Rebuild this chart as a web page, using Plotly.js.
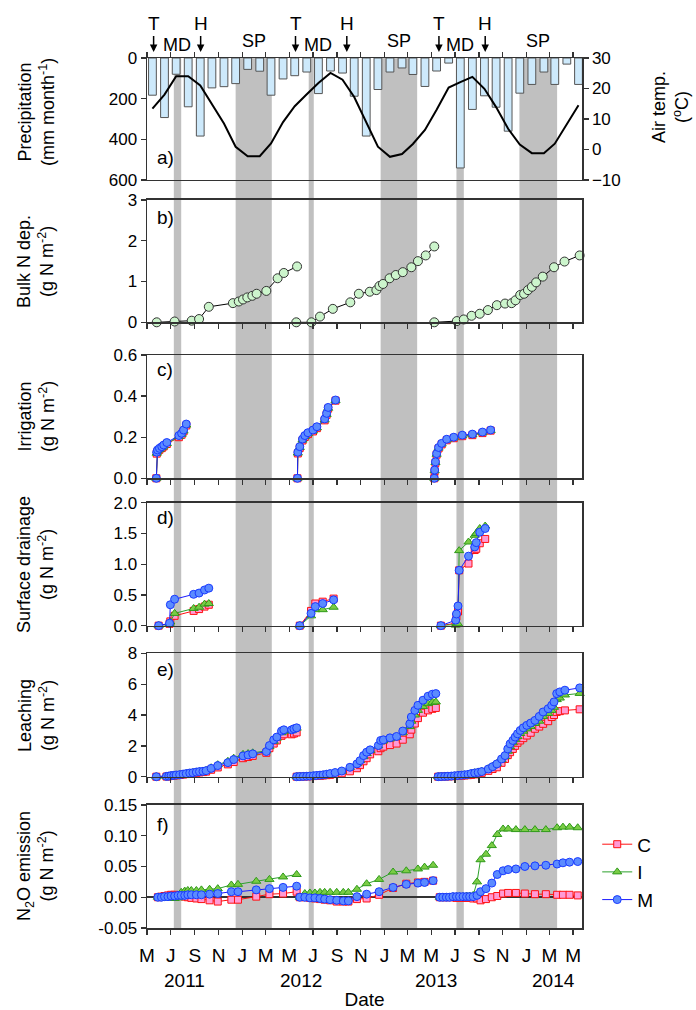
<!DOCTYPE html>
<html><head><meta charset="utf-8">
<script src="https://cdn.plot.ly/plotly-3.0.1.min.js"></script>
<style>body{margin:0;background:#fff}#chart{width:696px;height:1010px}</style>
</head><body><div id="chart"></div>
<script>
// ---------- DATA ----------
const tickVals = ['2011-05-01','2011-07-01','2011-09-01','2011-11-01','2012-01-01','2012-03-01','2012-05-01','2012-07-01','2012-09-01','2012-11-01','2013-01-01','2013-03-01','2013-05-01','2013-07-01','2013-09-01','2013-11-01','2014-01-01','2014-03-01','2014-05-01'];
const tickText = ['M','J','S','N','J','M','M','J','S','N','J','M','M','J','S','N','J','M','M'];
const yearLabels = ['2011','2012','2013','2014'];
const yearPos = ['2011-08-06','2012-06-01','2013-05-13','2014-03-11'];

const bandStart = ['2011-07-09','2011-12-15','2012-06-20','2012-12-22','2013-07-05','2013-12-14'];
const bandEnd   = ['2011-07-28','2012-03-17','2012-07-03','2013-03-26','2013-07-24','2014-03-21'];
const bandLabel = ['MD','SP','MD','SP','MD','SP'];
const bandLabelPos = ['2011-07-18','2012-01-31','2012-07-13','2013-02-06','2013-07-15','2014-02-01'];

const eventDates = ['2011-05-18','2011-09-16','2012-05-17','2012-09-26','2013-05-21','2013-09-17'];
const eventLabels = ['T','H','T','H','T','H'];

// a) monthly precipitation and air temperature
const months = ['2011-05-15','2011-06-15','2011-07-15','2011-08-15','2011-09-15','2011-10-15','2011-11-15','2011-12-15',
 '2012-01-15','2012-02-15','2012-03-15','2012-04-15','2012-05-15','2012-06-15','2012-07-15','2012-08-15','2012-09-15','2012-10-15','2012-11-15','2012-12-15',
 '2013-01-15','2013-02-15','2013-03-15','2013-04-15','2013-05-15','2013-06-15','2013-07-15','2013-08-15','2013-09-15','2013-10-15','2013-11-15','2013-12-15',
 '2014-01-15','2014-02-15','2014-03-15','2014-04-15','2014-05-15'];
const precip = [183,293,80,240,384,147,141,126, 56,65,183,103,87,69,175,64,74,188,384,155, 69,49,81,140,64,25,541,253,186,242,360,173, 130,69,130,30,130];
const airTemp = [13.4,18.0,24.0,24.0,21.0,15.0,8.5,0.9, -2.2,-2.2,2.0,9.0,14.2,18.1,21.8,25.1,22.9,17.2,9.1,0.9, -2.4,-1.5,1.8,6.4,13.0,20.3,22.1,23.8,19.9,13.9,6.8,1.6, -1.2,-1.2,1.9,8.5,14.5];

// b) bulk N deposition
const bulkDates1 = ['2011-05-26','2011-07-11','2011-08-24','2011-09-12','2011-10-07','2011-12-08','2011-12-23','2012-01-03','2012-01-14','2012-01-27','2012-02-07','2012-03-03','2012-04-01','2012-04-17','2012-05-21'];
const bulkVals1  = [0,0.02,0.04,0.08,0.38,0.47,0.51,0.56,0.61,0.65,0.70,0.77,1.08,1.21,1.37];
const bulkDates2 = ['2012-05-19','2012-06-27','2012-07-19','2012-08-21','2012-10-05','2012-10-27','2012-11-24','2012-12-11','2012-12-19','2012-12-28','2013-01-14','2013-01-30','2013-02-17','2013-03-11','2013-03-28','2013-04-17','2013-05-09'];
const bulkVals2  = [0,0.0,0.14,0.33,0.49,0.70,0.75,0.79,0.89,0.94,1.08,1.16,1.23,1.35,1.50,1.64,1.86];
const bulkDates3 = ['2013-05-09','2013-07-06','2013-07-24','2013-08-13','2013-09-03','2013-09-24','2013-10-17','2013-11-07','2013-11-24','2013-12-04','2013-12-16','2013-12-26','2014-01-05','2014-01-15','2014-01-26','2014-02-12','2014-03-13','2014-04-09','2014-05-18'];
const bulkVals3  = [0,0.03,0.07,0.16,0.21,0.30,0.42,0.46,0.47,0.54,0.67,0.70,0.79,0.87,0.98,1.12,1.35,1.49,1.64];

// c) irrigation
const irrDates1 = ['2011-05-25','2011-05-26','2011-05-28','2011-06-02','2011-06-08','2011-06-13','2011-06-21','2011-07-22','2011-07-29','2011-08-03','2011-08-10'];
const irrM1 = [0,0.127,0.138,0.146,0.154,0.162,0.174,0.208,0.219,0.235,0.264];
const irrC1 = [0,0.120,0.130,0.139,0.147,0.155,0.167,0.200,0.212,0.228,0.257];
const irrI1 = [0,0.122,0.133,0.141,0.149,0.157,0.169,0.203,0.214,0.230,0.259];
const irrDates2 = ['2012-05-22','2012-05-23','2012-05-28','2012-06-04','2012-06-10','2012-06-18','2012-07-01','2012-07-11','2012-07-31','2012-08-05','2012-08-09','2012-08-28'];
const irrM2 = [0,0.127,0.154,0.191,0.208,0.222,0.235,0.251,0.289,0.316,0.345,0.381];
const irrC2 = [0,0.121,0.148,0.184,0.201,0.215,0.228,0.244,0.282,0.309,0.339,0.378];
const irrI2 = [0,0.123,0.150,0.186,0.203,0.217,0.230,0.246,0.284,0.311,0.341,0.379];
const irrDates3 = ['2013-05-09','2013-05-10','2013-05-12','2013-05-15','2013-05-20','2013-05-28','2013-06-10','2013-06-28','2013-07-20','2013-08-15','2013-09-10','2013-10-01'];
const irrM3 = [0,0.04,0.08,0.12,0.15,0.17,0.19,0.20,0.21,0.215,0.225,0.235];
const irrC3 = [0,0.035,0.075,0.115,0.145,0.165,0.185,0.195,0.205,0.21,0.22,0.232];
const irrI3 = [0,0.037,0.077,0.117,0.147,0.167,0.187,0.197,0.207,0.212,0.222,0.233];

// d) surface drainage
const drDates1 = ['2011-05-31','2011-06-28','2011-06-30','2011-07-11','2011-08-29','2011-09-12','2011-09-26','2011-10-07'];
const drM1 = [0,0.04,0.34,0.43,0.51,0.53,0.58,0.61];
const drC1 = [0,0.03,0.07,0.16,0.24,0.27,0.31,0.34];
const drI1 = [0,0.03,0.06,0.20,0.28,0.30,0.35,0.36];
const drDates2 = ['2012-05-28','2012-06-26','2012-07-07','2012-07-26','2012-08-23'];
const drM2 = [0,0.20,0.31,0.36,0.42];
const drC2 = [0,0.24,0.36,0.39,0.44];
const drI2 = [0,0.16,0.26,0.26,0.30];
const drDates3 = ['2013-05-26','2013-07-03','2013-07-05','2013-07-09','2013-07-12','2013-08-05','2013-08-21','2013-08-25','2013-09-03','2013-09-17'];
const drM3 = [0,0.09,0.19,0.32,0.90,1.13,1.28,1.35,1.52,1.58];
const drC3 = [0,0.04,0.15,0.23,0.90,1.01,1.23,1.25,1.34,1.41];
const drI3 = [0,0.01,0.02,0.03,1.22,1.36,1.47,1.50,1.58,1.62];

// e) leaching
const leDates1 = ['2011-05-25','2011-06-20','2011-06-26','2011-07-02','2011-07-09','2011-07-15','2011-07-24','2011-08-02','2011-08-10','2011-08-19','2011-08-27','2011-09-05','2011-09-13','2011-09-22','2011-09-30','2011-10-13','2011-10-30','2011-11-25','2011-12-10','2012-01-03','2012-01-16','2012-01-28','2012-03-03','2012-03-11','2012-03-22','2012-03-30','2012-04-11','2012-04-17','2012-05-07','2012-05-13','2012-05-20'];
const leM1 = [0,0.02,0.04,0.07,0.09,0.11,0.13,0.17,0.20,0.24,0.26,0.30,0.33,0.35,0.39,0.54,0.72,0.91,1.11,1.35,1.41,1.48,1.63,2.02,2.39,2.57,2.96,3.04,3.04,3.11,3.17];
const leC1 = [0,0.01,0.03,0.05,0.07,0.09,0.11,0.14,0.17,0.20,0.22,0.25,0.28,0.30,0.33,0.45,0.60,0.80,0.95,1.20,1.28,1.35,1.55,1.85,2.15,2.35,2.65,2.75,2.75,2.80,2.87];
const leI1 = [0,0.02,0.04,0.07,0.09,0.11,0.13,0.17,0.20,0.24,0.27,0.31,0.34,0.37,0.41,0.58,0.78,1.00,1.20,1.45,1.50,1.55,1.68,1.95,2.30,2.50,2.85,2.95,2.98,3.05,3.15];
const leDates2 = ['2012-05-20','2012-05-28','2012-06-06','2012-06-15','2012-06-23','2012-07-02','2012-07-10','2012-07-19','2012-07-27','2012-08-05','2012-08-14','2012-08-27','2012-09-13','2012-10-04','2012-10-22','2012-10-30','2012-11-08','2012-11-16','2012-11-25','2012-12-16','2012-12-22','2012-12-29','2013-01-15','2013-02-01','2013-02-17','2013-03-07','2013-03-11','2013-03-20','2013-03-28','2013-04-10','2013-04-23','2013-05-04','2013-05-13'];
const leM2 = [0,0.01,0.02,0.03,0.04,0.06,0.08,0.10,0.12,0.16,0.20,0.27,0.37,0.61,0.83,1.04,1.37,1.59,1.74,2.02,2.35,2.39,2.52,2.61,2.96,3.43,3.87,4.30,4.63,4.96,5.22,5.35,5.39];
const leC2 = [0,0.01,0.01,0.02,0.03,0.04,0.05,0.06,0.08,0.10,0.12,0.17,0.22,0.35,0.55,0.75,1.00,1.20,1.45,1.65,1.85,1.95,2.05,2.15,2.40,2.75,3.05,3.45,3.80,4.15,4.30,4.40,4.46];
const leI2 = [0,0.01,0.02,0.03,0.04,0.06,0.08,0.10,0.12,0.15,0.19,0.25,0.35,0.60,0.85,1.05,1.30,1.50,1.70,2.00,2.25,2.32,2.45,2.55,2.85,3.25,3.60,4.00,4.30,4.55,4.74,4.82,4.85];
const leDates3 = ['2013-05-19','2013-05-27','2013-06-05','2013-06-13','2013-06-22','2013-06-30','2013-07-09','2013-07-18','2013-07-26','2013-08-04','2013-08-12','2013-08-21','2013-08-30','2013-09-08','2013-09-25','2013-10-06','2013-10-17','2013-10-29','2013-11-07','2013-11-14','2013-11-20','2013-11-27','2013-12-03','2013-12-09','2013-12-16','2013-12-24','2014-01-02','2014-01-12','2014-01-23','2014-02-03','2014-02-13','2014-02-26','2014-03-07','2014-03-13','2014-03-20','2014-03-28','2014-04-10','2014-05-18'];
const leM3 = [0,0.01,0.02,0.03,0.04,0.06,0.08,0.10,0.12,0.15,0.20,0.24,0.28,0.33,0.50,0.65,0.83,1.15,1.37,1.80,2.13,2.35,2.57,2.78,3.00,3.17,3.33,3.48,3.65,3.91,4.20,4.41,4.63,4.85,5.39,5.50,5.61,5.76];
const leC3 = [0,0.01,0.01,0.02,0.03,0.04,0.05,0.07,0.08,0.10,0.12,0.15,0.18,0.25,0.38,0.50,0.61,0.90,1.15,1.40,1.59,1.80,2.00,2.20,2.35,2.50,2.67,2.85,3.11,3.25,3.43,3.60,3.87,4.00,4.20,4.25,4.30,4.37];
const leI3 = [0,0.01,0.02,0.03,0.04,0.06,0.08,0.10,0.13,0.16,0.21,0.26,0.31,0.36,0.52,0.68,0.86,1.10,1.30,1.65,1.95,2.20,2.40,2.60,2.80,2.95,3.10,3.25,3.45,3.60,3.90,4.10,4.30,4.50,5.00,5.10,5.30,5.40];

// f) N2O emission
const n2oDates1 = ['2011-05-29','2011-06-07','2011-06-15','2011-06-24','2011-07-02','2011-07-11','2011-07-20','2011-07-28','2011-08-06','2011-08-14','2011-08-23','2011-09-05','2011-09-18','2011-10-09','2011-10-30','2011-12-04','2011-12-21','2012-02-06','2012-03-11','2012-04-15','2012-05-20'];
const n2oM1 = [0,0,0.001,0.001,0.002,0.002,0.003,0.003,0.003,0.004,0.004,0.004,0.004,0.005,0.006,0.009,0.009,0.012,0.014,0.016,0.018];
const n2oC1 = [0,0.001,0.002,0.003,0.004,0.004,0.003,0.002,0.001,0,-0.001,-0.002,-0.003,-0.005,-0.007,-0.004,-0.004,0.001,0.005,0.006,0.009];
const n2oI1 = [0,-0.001,-0.002,-0.002,-0.002,-0.002,-0.001,0.008,0.010,0.011,0.011,0.011,0.012,0.013,0.014,0.020,0.021,0.026,0.029,0.033,0.037];
const n2oDates2 = ['2012-05-28','2012-06-10','2012-06-23','2012-07-06','2012-07-19','2012-07-31','2012-08-14','2012-08-31','2012-09-17','2012-09-30','2012-10-22','2012-11-16','2012-12-18','2013-01-23','2013-02-26','2013-03-28','2013-04-14','2013-05-06'];
const n2oM2 = [0,0,-0.001,-0.001,-0.002,-0.003,-0.004,-0.005,-0.006,-0.006,0.001,0.005,0.009,0.016,0.021,0.023,0.024,0.027];
const n2oC2 = [0,0,-0.001,-0.002,-0.003,-0.004,-0.005,-0.007,-0.007,-0.007,-0.003,-0.002,0.004,0.015,0.022,0.024,0.025,0.027];
const n2oI2 = [0,0.006,0.007,0.007,0.008,0.008,0.008,0.008,0.008,0.008,0.013,0.022,0.029,0.041,0.043,0.046,0.049,0.052];
const n2oDates3 = ['2013-05-23','2013-05-31','2013-06-09','2013-06-17','2013-06-26','2013-07-05','2013-07-13','2013-07-22','2013-07-31','2013-08-08','2013-08-17','2013-08-27','2013-09-05','2013-09-19','2013-10-04','2013-10-18','2013-11-02','2013-11-15','2013-12-05','2013-12-28','2014-01-23','2014-02-20','2014-03-21','2014-04-05','2014-04-22','2014-05-13'];
const n2oM3 = [0,0,0,0,0.001,0.001,0.001,0.001,0.001,0.001,0.001,0.003,0.009,0.014,0.023,0.037,0.043,0.045,0.046,0.050,0.051,0.052,0.054,0.056,0.057,0.058];
const n2oC3 = [0,0,0,0,0,-0.001,-0.001,-0.001,-0.001,-0.001,-0.002,-0.002,-0.005,-0.003,0,0.002,0.006,0.007,0.007,0.006,0.005,0.005,0.004,0.004,0.004,0.003];
const n2oI3 = [0,0,0,0,0.001,0.001,0.001,0.001,0.002,0.002,0.003,0.025,0.061,0.070,0.084,0.102,0.111,0.111,0.110,0.110,0.110,0.110,0.113,0.114,0.114,0.113];

// ---------- BUILD ----------
function join(segs){ // segs: [[dates, vals], ...] -> broken line
  const x=[], y=[];
  segs.forEach((s,i)=>{ if(i>0){x.push(null);y.push(null);} x.push(...s[0]); y.push(...s[1]); });
  return {x, y};
}
const FONT = 'Arial, "Liberation Sans", sans-serif';
const styles = {
  C:{line:{color:'#ff1010',width:1}, marker:{symbol:'square',size:7,color:'#ff9ad5',line:{color:'#ff1010',width:1}}},
  I:{line:{color:'#2ca02c',width:1}, marker:{symbol:'triangle-up',size:8,color:'#7acc45',line:{color:'#2f9a1a',width:1}}},
  M:{line:{color:'#1a1aff',width:1}, marker:{symbol:'circle',size:8,color:'#5b8bff',line:{color:'#1a3aff',width:1}}}
};
const traces = [];
traces.push({type:'bar', x:months, y:precip, xaxis:'x', yaxis:'y', width:20*86400000,
  marker:{color:'#cde9fb', line:{color:'#555', width:1}}, showlegend:false, hoverinfo:'x+y'});
traces.push({type:'scatter', mode:'lines', x:months, y:airTemp, xaxis:'x', yaxis:'y7',
  line:{color:'#000', width:2}, showlegend:false});
const bulk = join([[bulkDates1,bulkVals1],[bulkDates2,bulkVals2],[bulkDates3,bulkVals3]]);
traces.push({type:'scatter', mode:'lines+markers', x:bulk.x, y:bulk.y, xaxis:'x2', yaxis:'y2', cliponaxis:false,
  line:{color:'#000',width:1}, marker:{symbol:'circle',size:9,color:'#ccf5cc',line:{color:'#333',width:1}}, showlegend:false});

function cim(xa, ya, dates, C, I, M, leg){
  const data = {C:C, I:I, M:M};
  ['C','I','M'].forEach(k=>{
    const j = join(dates.map((d,i)=>[d, data[k][i]]));
    traces.push(Object.assign({type:'scatter', mode:'lines+markers', x:j.x, y:j.y, xaxis:xa, yaxis:ya,
      name:k, cliponaxis:false, showlegend:leg}, JSON.parse(JSON.stringify(styles[k]))));
  });
}
cim('x3','y3',[irrDates1,irrDates2,irrDates3],[irrC1,irrC2,irrC3],[irrI1,irrI2,irrI3],[irrM1,irrM2,irrM3],false);
cim('x4','y4',[drDates1,drDates2,drDates3],[drC1,drC2,drC3],[drI1,drI2,drI3],[drM1,drM2,drM3],false);
cim('x5','y5',[leDates1,leDates2,leDates3],[leC1,leC2,leC3],[leI1,leI2,leI3],[leM1,leM2,leM3],false);
cim('x6','y6',[n2oDates1,n2oDates2,n2oDates3],[n2oC1,n2oC2,n2oC3],[n2oI1,n2oI2,n2oI3],[n2oM1,n2oM2,n2oM3],true);

const LC = '#333';
const ax = {showline:true, linecolor:LC, linewidth:1.5, mirror:true, ticks:'outside', ticklen:5, tickwidth:1.3, tickcolor:LC,
  showgrid:false, zeroline:false, tickfont:{family:FONT, size:17, color:'#000'}};
const xr = ['2011-05-01','2014-05-24'];
function xax(anchor, extra){ return Object.assign({}, ax, {type:'date', range:xr, anchor:anchor, tickmode:'array', tickvals:tickVals, ticktext:tickText, showticklabels:false}, extra||{}); }

const doms = [[0.8598,1],[0.6962,0.8368],[0.5169,0.6586],[0.3475,0.4889],[0.1739,0.3157],[0,0.1414]];
const layout = {
  width:696, height:1010, margin:{l:147, r:114, t:58, b:82},
  paper_bgcolor:'#fff', plot_bgcolor:'rgba(0,0,0,0)',
  font:{family:FONT, color:'#000'}, bargap:0,
  xaxis: xax('y', {side:'top'}),
  xaxis2: xax('y2', {matches:'x'}),
  xaxis3: xax('y3', {matches:'x'}),
  xaxis4: xax('y4', {matches:'x'}),
  xaxis5: xax('y5', {matches:'x'}),
  xaxis6: xax('y6', {matches:'x', showticklabels:true, ticklabelstandoff:5, tickfont:{family:FONT,size:19,color:'#000'},
           title:{text:'Date', font:{family:FONT,size:19,color:'#000'}, standoff:28}}),
  yaxis: Object.assign({}, ax, {domain:doms[0], anchor:'x', range:[600,0], tickvals:[0,200,400,600]}),
  yaxis7: Object.assign({}, ax, {overlaying:'y', side:'right', anchor:'x', range:[-10,30], tickvals:[-10,0,10,20,30], mirror:false}),
  yaxis2: Object.assign({}, ax, {domain:doms[1], anchor:'x2', range:[0,3], tickvals:[0,1,2,3]}),
  yaxis3: Object.assign({}, ax, {domain:doms[2], anchor:'x3', range:[0,0.6], tickvals:[0,0.2,0.4,0.6], tickformat:'.1f'}),
  yaxis4: Object.assign({}, ax, {domain:doms[3], anchor:'x4', range:[0,2], tickvals:[0,0.5,1,1.5,2], tickformat:'.1f'}),
  yaxis5: Object.assign({}, ax, {domain:doms[4], anchor:'x5', range:[0,8], tickvals:[0,2,4,6,8]}),
  yaxis6: Object.assign({}, ax, {domain:doms[5], anchor:'x6', range:[-0.05,0.15], tickvals:[-0.05,0,0.05,0.1,0.15],
           ticktext:['-0.05','0.00','0.05','0.10','0.15'], tickmode:'array', zeroline:true, zerolinecolor:LC, zerolinewidth:1.5}),
  legend:{x:1.035, y:0.118, xanchor:'left', yanchor:'top', font:{family:FONT,size:19,color:'#000'}, bgcolor:'rgba(0,0,0,0)', tracegroupgap:0},
  shapes:[], annotations:[]
};
// shaded periods
bandStart.forEach((s,i)=>{
  layout.shapes.push({type:'rect', xref:'x', yref:'paper', x0:s, x1:bandEnd[i], y0:0, y1:1, fillcolor:'#c0c0c0', line:{width:0}, layer:'below'});
  layout.annotations.push({xref:'x', yref:'paper', x:bandLabelPos[i], y: bandLabel[i]==='MD'?1.0149:1.0195, text:bandLabel[i], showarrow:false,
    font:{family:FONT,size:18,color:'#000'}, xanchor:'center', yanchor:'middle'});
});
// T / H arrows
eventDates.forEach((d,i)=>{
  layout.annotations.push({xref:'x', yref:'paper', x:d, y:1.0069, text:eventLabels[i], showarrow:true, ax:0, ay:-28,
    arrowhead:2, arrowsize:1, arrowwidth:1.5, arrowcolor:'#000', font:{family:FONT,size:19,color:'#000'}});
});
// years
yearLabels.forEach((t,i)=>{
  layout.annotations.push({xref:'x', yref:'paper', x:yearPos[i], y:-0.0598, text:t, showarrow:false,
    font:{family:FONT,size:19,color:'#000'}, xanchor:'center', yanchor:'middle'});
});
// panel letters
const letters = ['a)','b)','c)','d)','e)','f)'];
const letterY = [0.8862,0.8172,0.6414,0.4724,0.2977,0.1184];
letters.forEach((t,i)=>{
  layout.annotations.push({xref:'paper', yref:'paper', x:0.018, y:letterY[i], text:t, showarrow:false,
    font:{family:FONT,size:19,color:'#000'}, xanchor:'left', yanchor:'middle'});
});
// y titles
const yTitles = ['Precipitation<br>(mm month<sup>-1</sup>)','Bulk N dep.<br>(g N m<sup>-2</sup>)','Irrigation<br>(g N m<sup>-2</sup>)',
  'Surface drainage<br>(g N m<sup>-2</sup>)','Leaching<br>(g N m<sup>-2</sup>)','N<sub>2</sub>O emission<br>(g N m<sup>-2</sup>)'];
const yTitleY = [0.9379,0.7667,0.5885,0.4184,0.2448,0.0713];
yTitles.forEach((t,i)=>{
  layout.annotations.push({xref:'paper', yref:'paper', x:-0.2552, y:yTitleY[i], text:t, textangle:-90, showarrow:false,
    font:{family:FONT,size:18,color:'#000'}, xanchor:'center', yanchor:'middle'});
});
layout.annotations.push({xref:'paper', yref:'paper', x:1.2046, y:0.9437, text:'Air temp.<br>(<sup>o</sup>C)', textangle:-90, showarrow:false,
  font:{family:FONT,size:18,color:'#000'}, xanchor:'center', yanchor:'middle'});

Plotly.newPlot('chart', traces, layout, {displayModeBar:false, staticPlot:true});
</script></body></html>
